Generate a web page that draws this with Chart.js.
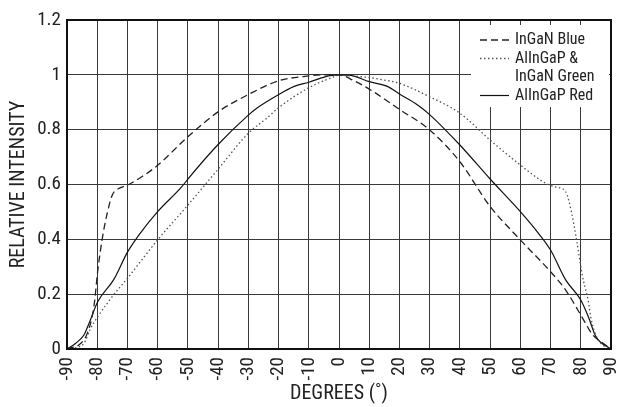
<!DOCTYPE html>
<html>
<head>
<meta charset="utf-8">
<script src="https://cdn.jsdelivr.net/npm/chart.js@4/dist/chart.umd.min.js"></script>
<style>
html,body{margin:0;padding:0;background:#fff;}
canvas{display:block;}
</style>
</head>
<body>
<canvas id="c" width="627" height="407"></canvas>
<script>
const seriesLabels = ["InGaN Blue", ["AlInGaP &", "InGaN Green"], "AlInGaP Red"];

const blueDeg = [-90,-85.5,-83.3,-81.1,-79.8,-78.4,-76.7,-75,-73.4,-70,-65,-60,-50,-40,-30,-20,-10,-5,0,5,10,20,30,40,50,60,70,75,80,84,87.5,90];
const blueVal = [0,0.02,0.057,0.154,0.288,0.398,0.495,0.562,0.582,0.598,0.63,0.67,0.774,0.865,0.928,0.978,0.996,1.0,1.0,0.978,0.948,0.874,0.799,0.683,0.52,0.398,0.282,0.215,0.124,0.051,0.02,0];

const greenDeg = [-90,-86,-84.4,-82.2,-79.8,-74.6,-70,-60,-50,-40,-30,-24,-20,-10,-3,0,10,15,20,30,40,50,60,68.5,72,75,77,78.6,80.6,82.4,83.5,85.2,88,90];
const greenVal = [0,0.008,0.02,0.075,0.118,0.197,0.258,0.398,0.525,0.656,0.787,0.841,0.88,0.953,0.987,0.998,0.99,0.981,0.969,0.92,0.86,0.762,0.671,0.604,0.59,0.574,0.495,0.398,0.264,0.179,0.106,0.045,0.008,0];

const redDeg = [-90,-87.2,-84.4,-82.7,-79.8,-74.6,-69.9,-65.8,-60,-52,-50,-40,-30,-27,-20,-15,-10,-3,0,4,10,16,20,26,30,40,50,60,66,70,75,80,82.5,85,90];
const redVal = [0,0.02,0.051,0.094,0.173,0.252,0.355,0.422,0.501,0.592,0.62,0.746,0.853,0.88,0.928,0.957,0.973,0.997,1.0,0.998,0.975,0.958,0.93,0.89,0.855,0.744,0.62,0.501,0.422,0.361,0.252,0.179,0.118,0.045,0];

const xTicks = [-90,-80,-70,-60,-50,-40,-30,-20,-10,0,10,20,30,40,50,60,70,80,90];
const yTicks = [0,0.2,0.4,0.6,0.8,1,1.2];
const yTickLabels = ["0","0.2","0.4","0.6","0.8","1","1.2"];

const FONT = "'Liberation Sans Narrow','Roboto Condensed','DejaVu Sans Condensed','Arial Narrow',sans-serif";

function pts(d, v){ return d.map((x,i)=>({x:x, y:v[i]})); }

const frameAndLegend = {
  id: 'frameAndLegend',
  afterDatasetsDraw(chart){
    const ctx = chart.ctx, a = chart.chartArea;
    ctx.save();
    const bx = a.right - 140, by = a.top + 5, bw = 138, bh = 82;
    ctx.fillStyle = '#fff';
    ctx.fillRect(bx, by, bw, bh);
    const rows = [a.top + 20, a.top + 38.5, a.top + 57, a.top + 75.5];
    const sampleRow = [0, 1, 3];
    ctx.font = '16px ' + FONT;
    ctx.textBaseline = 'middle';
    ctx.textAlign = 'left';
    ctx.fillStyle = '#222';
    chart.data.datasets.forEach((ds, i) => {
      const r = sampleRow[i];
      ctx.beginPath();
      ctx.setLineDash(ds.borderDash || []);
      ctx.strokeStyle = ds.borderColor;
      ctx.lineWidth = ds.borderWidth;
      ctx.moveTo(a.right - 131, rows[r]);
      ctx.lineTo(a.right - 102, rows[r]);
      ctx.stroke();
      const lab = Array.isArray(ds.label) ? ds.label : [ds.label];
      lab.forEach((t, k) => ctx.fillText(t, a.right - 96, rows[r + k]));
    });
    ctx.setLineDash([]);
    ctx.strokeStyle = '#111';
    ctx.lineWidth = 2;
    ctx.strokeRect(a.left, a.top, a.right - a.left, a.bottom - a.top);
    ctx.restore();
  }
};

new Chart(document.getElementById('c'), {
  type: 'line',
  data: {
    datasets: [
      { label: seriesLabels[0], data: pts(blueDeg, blueVal), borderColor: '#222', borderWidth: 1.3, borderDash: [7,4], pointRadius: 0, fill: false, cubicInterpolationMode: 'monotone' },
      { label: seriesLabels[1], data: pts(greenDeg, greenVal), borderColor: '#555', borderWidth: 1.3, borderDash: [1.5,2.5], pointRadius: 0, fill: false, cubicInterpolationMode: 'monotone' },
      { label: seriesLabels[2], data: pts(redDeg, redVal), borderColor: '#111', borderWidth: 1.2, pointRadius: 0, fill: false, cubicInterpolationMode: 'monotone' }
    ]
  },
  options: {
    responsive: false,
    animation: false,
    devicePixelRatio: 1,
    layout: { padding: { top: 20, right: 16, left: 0, bottom: 0 } },
    plugins: { legend: { display: false }, tooltip: { enabled: false } },
    scales: {
      x: {
        type: 'linear', min: -90, max: 90,
        afterBuildTicks: s => { s.ticks = xTicks.map(v => ({ value: v })); },
        afterFit: s => { s.height = 58; s.paddingLeft = 0; s.paddingRight = 0; },
        ticks: { autoSkip: false, minRotation: 90, maxRotation: 90, padding: 8, color: '#222', font: { family: FONT, size: 19 }, callback: v => String(v) },
        grid: { color: '#3a3a3a', lineWidth: 1, drawTicks: false },
        border: { display: false },
        title: { display: true, text: 'DEGREES (˚)', color: '#222', font: { family: FONT, size: 20 }, padding: { top: 0, bottom: 1 } }
      },
      y: {
        type: 'linear', min: 0, max: 1.2,
        afterBuildTicks: s => { s.ticks = yTicks.map(v => ({ value: v })); },
        afterFit: s => { s.width = 67; s.paddingTop = 0; s.paddingBottom = 0; },
        ticks: { padding: 6, color: '#222', font: { family: FONT, size: 19 }, callback: (v) => yTickLabels[yTicks.indexOf(v)] ?? '' },
        grid: { color: '#3a3a3a', lineWidth: 1, drawTicks: false },
        border: { display: false },
        title: { display: true, text: 'RELATIVE INTENSITY', color: '#222', font: { family: FONT, size: 20 }, padding: { top: 7, bottom: 0 } }
      }
    }
  },
  plugins: [frameAndLegend]
});
</script>
</body>
</html>
